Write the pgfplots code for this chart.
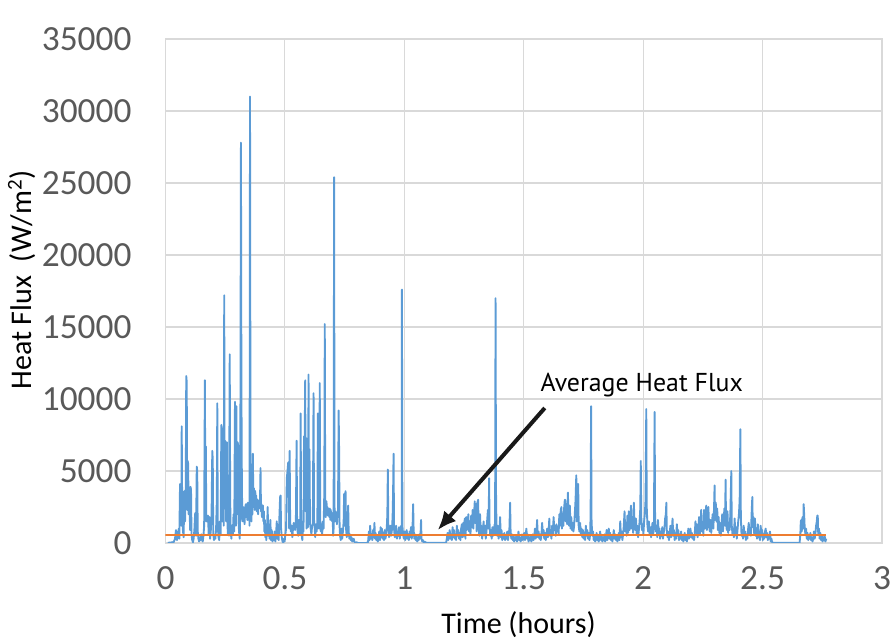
\documentclass[border=0pt]{standalone}
\usepackage{pgfplots}
\pgfplotsset{compat=1.18}
\usetikzlibrary{arrows.meta}
\usepackage{fontspec}
\setmainfont{Carlito}
\newfontfamily\annfont{PT Sans}
\definecolor{xlblue}{HTML}{5B9BD5}
\definecolor{xlorange}{HTML}{ED7D31}
\definecolor{gridgray}{HTML}{D9D9D9}
\definecolor{ticktext}{HTML}{595959}
\begin{document}
\begin{tikzpicture}
\begin{axis}[
  scale only axis,
  width=537.4pt, height=378pt,
  xmin=0, xmax=3, ymin=0, ymax=35000,
  xtick={0,0.5,1,1.5,2,2.5,3},
  ytick={0,5000,10000,15000,20000,25000,30000,35000},
  xticklabels={0,0.5,1,1.5,2,2.5,3},
  scaled y ticks=false,
  /pgf/number format/assume math mode=true,
  yticklabel={\pgfmathprintnumber[fixed,1000 sep={}]{\tick}},
  grid=major,
  grid style={gridgray, line width=0.8pt},
  axis line style={gridgray, line width=0.8pt},
  major tick length=0pt,
  tick label style={font=\fontsize{26.5}{30}\selectfont, text=ticktext},
  yticklabel style={xshift=-22pt},
  xticklabel style={yshift=-14pt},
  every axis y label/.style={at={(axis description cs:-0.2003,0.522)}, rotate=90, anchor=center, font=\fontsize{22.5}{26}\selectfont},
  every axis x label/.style={at={(axis description cs:0.4927,-0.161)}, anchor=center, font=\fontsize{22.5}{26}\selectfont},
  ylabel={Heat Flux~~(W/m\textsuperscript{2})},
  xlabel={Time (hours)},
  clip=true,
]
\addplot[xlblue, line width=1.4pt, line join=round] coordinates {
(0.010,0)(0.016,30)(0.022,20)(0.028,60)(0.034,40)(0.040,300)(0.044,900)(0.048,200)(0.052,600)(0.056,1000)(0.058,300)(0.061,4100)(0.064,3800)(0.066,1200)(0.068,8100)(0.070,2500)(0.073,900)(0.076,400)(0.079,3600)(0.082,1500)(0.085,4000)(0.087,11600)(0.089,11200)(0.091,2300)(0.093,5700)(0.095,5500)(0.097,2000)(0.100,3800)(0.103,900)(0.105,3900)(0.107,3700)(0.109,600)(0.112,200)(0.115,50)(0.118,300)(0.121,900)(0.124,2000)(0.126,2100)(0.128,500)(0.131,5300)(0.133,5000)(0.135,800)(0.138,300)(0.141,100)(0.144,400)(0.147,200)(0.150,600)(0.153,200)(0.156,100)(0.159,500)(0.162,1200)(0.165,11300)(0.167,3000)(0.169,6700)(0.171,1500)(0.173,1700)(0.175,1500)(0.178,1900)(0.181,600)(0.184,1800)(0.187,300)(0.190,900)(0.193,2000)(0.196,6400)(0.198,5800)(0.200,700)(0.203,200)(0.206,500)(0.209,300)(0.212,1000)(0.215,3000)(0.217,9700)(0.219,1200)(0.222,400)(0.225,200)(0.228,1500)(0.231,600)(0.234,8200)(0.236,8000)(0.238,1500)(0.241,7100)(0.244,1200)(0.246,17200)(0.248,2500)(0.250,7100)(0.252,3500)(0.254,1500)(0.257,7000)(0.259,2000)(0.261,600)(0.264,1800)(0.266,500)(0.269,13100)(0.271,3000)(0.273,800)(0.276,300)(0.279,1200)(0.282,600)(0.285,2000)(0.288,800)(0.291,9800)(0.293,3500)(0.295,1200)(0.297,9500)(0.299,2000)(0.302,7000)(0.304,6800)(0.306,1500)(0.308,800)(0.311,300)(0.313,2300)(0.316,27800)(0.318,10800)(0.320,4000)(0.322,1500)(0.325,2500)(0.327,1500)(0.329,2000)(0.331,1300)(0.333,2000)(0.335,2600)(0.337,2700)(0.339,1800)(0.341,2500)(0.343,1600)(0.345,2800)(0.347,1900)(0.350,2600)(0.352,1200)(0.354,31000)(0.356,6000)(0.358,2600)(0.360,1500)(0.362,3200)(0.364,2000)(0.366,6200)(0.368,2500)(0.370,3800)(0.372,3500)(0.374,2300)(0.376,3600)(0.378,2500)(0.380,3300)(0.382,2200)(0.384,2800)(0.386,3000)(0.388,2000)(0.390,2900)(0.392,2400)(0.394,2600)(0.396,3100)(0.398,5200)(0.400,2200)(0.402,2700)(0.404,1800)(0.406,2400)(0.408,2600)(0.410,1500)(0.412,2200)(0.414,800)(0.416,1600)(0.418,400)(0.420,1300)(0.422,200)(0.425,900)(0.428,2500)(0.430,500)(0.433,1200)(0.436,300)(0.439,1600)(0.442,200)(0.445,900)(0.448,100)(0.451,500)(0.454,200)(0.457,800)(0.460,100)(0.463,600)(0.466,1500)(0.468,300)(0.471,1000)(0.474,200)(0.477,1800)(0.480,3200)(0.482,3300)(0.484,1000)(0.487,400)(0.490,100)(0.493,50)(0.496,300)(0.499,100)(0.502,600)(0.505,1000)(0.508,4500)(0.511,5000)(0.514,5600)(0.516,3000)(0.518,1000)(0.520,6400)(0.522,1500)(0.525,800)(0.528,1200)(0.531,400)(0.534,1000)(0.537,1400)(0.540,1100)(0.543,900)(0.546,1500)(0.549,7100)(0.551,1800)(0.553,800)(0.556,500)(0.559,1600)(0.562,600)(0.564,1000)(0.566,9000)(0.568,1200)(0.570,600)(0.573,200)(0.576,1500)(0.578,800)(0.580,7400)(0.582,5600)(0.585,11300)(0.587,2200)(0.589,7300)(0.591,1000)(0.594,1500)(0.597,1100)(0.599,11700)(0.601,2400)(0.603,6500)(0.605,1400)(0.608,1000)(0.611,600)(0.614,1200)(0.617,1300)(0.620,10400)(0.622,1600)(0.625,1000)(0.627,400)(0.630,1300)(0.633,800)(0.636,1500)(0.638,9000)(0.640,1700)(0.642,1000)(0.644,3100)(0.646,11100)(0.648,1600)(0.650,800)(0.653,1300)(0.656,600)(0.659,1500)(0.662,1000)(0.665,3500)(0.667,15200)(0.669,2500)(0.671,1800)(0.674,2900)(0.676,2300)(0.678,2500)(0.680,1900)(0.682,2400)(0.684,2200)(0.686,1800)(0.688,2400)(0.690,1600)(0.692,2300)(0.694,1800)(0.696,2100)(0.698,1500)(0.700,1900)(0.702,500)(0.704,1000)(0.706,25400)(0.708,2200)(0.710,1500)(0.712,2200)(0.714,1800)(0.716,2000)(0.718,1300)(0.720,1900)(0.722,2100)(0.723,4000)(0.725,9200)(0.727,6500)(0.729,1200)(0.731,500)(0.734,200)(0.737,1000)(0.740,300)(0.743,800)(0.746,1500)(0.748,3400)(0.750,1200)(0.752,3300)(0.754,3600)(0.756,1000)(0.759,400)(0.762,1000)(0.765,2600)(0.767,800)(0.770,300)(0.773,600)(0.776,200)(0.779,400)(0.782,100)(0.785,200)(0.788,300)(0.791,100)(0.794,0)(0.800,50)(0.806,0)(0.812,0)(0.820,0)(0.830,0)(0.840,0)(0.848,50)(0.852,800)(0.854,200)(0.857,1200)(0.860,300)(0.863,600)(0.866,200)(0.869,900)(0.872,400)(0.875,1400)(0.877,300)(0.880,700)(0.883,200)(0.886,500)(0.889,100)(0.892,300)(0.895,800)(0.898,200)(0.901,1100)(0.903,400)(0.906,1000)(0.909,300)(0.912,700)(0.915,200)(0.918,900)(0.921,300)(0.924,600)(0.927,1200)(0.929,2000)(0.931,5100)(0.933,1300)(0.936,400)(0.939,800)(0.942,1200)(0.945,500)(0.948,900)(0.951,1800)(0.953,3500)(0.955,6200)(0.957,1000)(0.960,400)(0.963,900)(0.966,1200)(0.969,300)(0.972,800)(0.975,500)(0.978,1100)(0.981,300)(0.984,700)(0.987,1200)(0.989,600)(0.990,17600)(0.992,1200)(0.995,600)(0.998,300)(1.001,800)(1.004,200)(1.007,500)(1.010,900)(1.013,300)(1.016,600)(1.019,200)(1.022,800)(1.025,400)(1.028,1100)(1.031,300)(1.034,800)(1.037,2700)(1.039,900)(1.042,300)(1.045,600)(1.048,200)(1.051,500)(1.054,100)(1.057,400)(1.060,200)(1.063,600)(1.066,300)(1.068,600)(1.070,1600)(1.072,300)(1.075,100)(1.078,200)(1.081,50)(1.085,100)(1.090,30)(1.095,20)(1.100,20)(1.120,20)(1.140,20)(1.160,20)(1.175,20)(1.178,300)(1.181,700)(1.184,200)(1.187,500)(1.190,900)(1.193,300)(1.196,600)(1.199,200)(1.202,1100)(1.205,400)(1.208,900)(1.211,300)(1.214,600)(1.217,200)(1.220,1200)(1.223,500)(1.226,900)(1.229,300)(1.232,700)(1.235,200)(1.238,1000)(1.241,1300)(1.244,400)(1.247,1400)(1.250,500)(1.253,1700)(1.256,300)(1.259,1800)(1.262,900)(1.265,1200)(1.268,2000)(1.271,800)(1.274,1500)(1.277,600)(1.280,1900)(1.283,1100)(1.286,2300)(1.289,1000)(1.292,2000)(1.295,2900)(1.297,1400)(1.300,2700)(1.303,800)(1.306,2800)(1.309,3000)(1.311,1200)(1.314,500)(1.317,2000)(1.320,600)(1.323,1200)(1.326,300)(1.329,900)(1.332,1500)(1.335,600)(1.338,1200)(1.341,300)(1.344,800)(1.347,1600)(1.350,2300)(1.353,1000)(1.355,4500)(1.357,1200)(1.360,500)(1.363,900)(1.366,300)(1.369,1100)(1.372,500)(1.375,800)(1.378,1300)(1.380,600)(1.382,17000)(1.384,3500)(1.386,1000)(1.389,500)(1.392,1200)(1.395,300)(1.398,700)(1.401,1800)(1.404,400)(1.407,900)(1.410,200)(1.413,600)(1.416,300)(1.419,700)(1.422,200)(1.425,500)(1.428,300)(1.431,800)(1.434,200)(1.437,600)(1.440,1000)(1.443,2800)(1.445,800)(1.448,300)(1.451,600)(1.454,200)(1.457,500)(1.460,100)(1.463,400)(1.466,200)(1.469,500)(1.472,100)(1.475,300)(1.478,800)(1.481,200)(1.484,400)(1.487,100)(1.490,300)(1.493,600)(1.496,200)(1.499,400)(1.502,700)(1.505,200)(1.508,500)(1.511,1000)(1.514,300)(1.517,600)(1.520,100)(1.523,400)(1.526,200)(1.529,500)(1.532,100)(1.535,300)(1.538,600)(1.541,200)(1.544,400)(1.547,1000)(1.550,300)(1.553,600)(1.556,1600)(1.559,400)(1.562,800)(1.565,300)(1.568,600)(1.571,200)(1.574,500)(1.577,1400)(1.580,600)(1.583,900)(1.586,300)(1.589,700)(1.592,200)(1.595,500)(1.598,1000)(1.601,400)(1.604,700)(1.607,1700)(1.610,500)(1.613,900)(1.616,300)(1.619,1200)(1.622,600)(1.625,1800)(1.628,900)(1.631,1200)(1.634,500)(1.637,1300)(1.640,800)(1.643,1100)(1.646,600)(1.649,2000)(1.652,1200)(1.655,2300)(1.658,2500)(1.660,1000)(1.663,1800)(1.666,1200)(1.669,2400)(1.672,3000)(1.674,3000)(1.676,1500)(1.679,2700)(1.682,1300)(1.685,3500)(1.687,2000)(1.690,1200)(1.693,2600)(1.696,1000)(1.699,1800)(1.702,900)(1.705,1400)(1.708,800)(1.711,1200)(1.714,2100)(1.717,3000)(1.720,4700)(1.722,1500)(1.725,2300)(1.728,4100)(1.730,1200)(1.733,800)(1.736,1400)(1.739,600)(1.742,1000)(1.745,400)(1.748,900)(1.751,300)(1.754,700)(1.757,200)(1.760,1200)(1.763,500)(1.766,900)(1.769,300)(1.772,700)(1.775,200)(1.778,600)(1.780,2000)(1.782,9500)(1.784,1500)(1.787,500)(1.790,800)(1.793,200)(1.796,500)(1.799,100)(1.802,300)(1.805,700)(1.808,200)(1.811,500)(1.814,100)(1.817,400)(1.820,800)(1.823,200)(1.826,500)(1.829,100)(1.832,400)(1.835,200)(1.838,600)(1.841,100)(1.844,400)(1.847,900)(1.850,200)(1.853,500)(1.856,1000)(1.859,300)(1.862,700)(1.865,200)(1.868,500)(1.871,100)(1.874,400)(1.877,900)(1.880,300)(1.883,600)(1.886,200)(1.889,500)(1.892,100)(1.895,300)(1.898,700)(1.901,200)(1.904,1500)(1.907,400)(1.910,800)(1.913,200)(1.916,600)(1.919,1200)(1.922,2200)(1.925,800)(1.928,1400)(1.931,500)(1.934,1900)(1.937,700)(1.940,2200)(1.943,900)(1.946,1500)(1.949,2600)(1.952,1000)(1.955,1800)(1.958,700)(1.961,2800)(1.964,1300)(1.967,900)(1.970,1700)(1.973,600)(1.976,1200)(1.979,400)(1.982,900)(1.985,1500)(1.988,2400)(1.990,5700)(1.992,1800)(1.995,900)(1.998,1300)(2.001,600)(2.004,1500)(2.007,2000)(2.010,3000)(2.013,9300)(2.015,2500)(2.018,1200)(2.021,800)(2.024,1500)(2.027,600)(2.030,1100)(2.033,400)(2.036,900)(2.039,1400)(2.042,600)(2.045,1200)(2.048,9100)(2.050,1500)(2.053,800)(2.056,1200)(2.059,400)(2.062,1600)(2.065,700)(2.068,1000)(2.071,300)(2.074,800)(2.077,500)(2.080,1100)(2.083,300)(2.086,700)(2.089,1000)(2.092,1700)(2.095,2000)(2.097,2800)(2.099,900)(2.102,400)(2.105,800)(2.108,200)(2.111,600)(2.114,1200)(2.117,400)(2.120,800)(2.123,1700)(2.126,500)(2.129,900)(2.132,200)(2.135,600)(2.138,300)(2.141,1300)(2.144,500)(2.147,900)(2.150,200)(2.153,600)(2.156,300)(2.159,800)(2.162,200)(2.165,500)(2.168,100)(2.171,300)(2.174,700)(2.177,200)(2.180,500)(2.183,100)(2.186,400)(2.189,1000)(2.192,300)(2.195,600)(2.198,1000)(2.201,400)(2.204,700)(2.207,300)(2.210,500)(2.213,200)(2.216,600)(2.219,1500)(2.222,700)(2.225,1300)(2.228,400)(2.231,800)(2.234,1800)(2.237,600)(2.240,1100)(2.243,2300)(2.246,800)(2.249,1400)(2.252,500)(2.255,2300)(2.258,1000)(2.261,1500)(2.264,2600)(2.267,900)(2.270,1700)(2.273,2500)(2.276,1200)(2.279,800)(2.282,1600)(2.285,700)(2.288,1400)(2.291,2000)(2.294,1000)(2.297,2600)(2.299,4000)(2.301,1600)(2.304,2800)(2.307,1500)(2.310,2400)(2.313,900)(2.316,1800)(2.319,700)(2.322,1400)(2.325,500)(2.328,1200)(2.331,2000)(2.334,800)(2.337,1500)(2.340,2400)(2.343,1200)(2.345,4400)(2.347,1500)(2.350,900)(2.353,2200)(2.356,700)(2.359,1400)(2.362,900)(2.365,2000)(2.367,3500)(2.369,5000)(2.371,1200)(2.374,600)(2.377,1000)(2.380,400)(2.383,1700)(2.386,600)(2.389,1100)(2.392,300)(2.395,900)(2.398,1500)(2.401,2000)(2.404,3000)(2.407,7900)(2.409,1800)(2.412,500)(2.415,900)(2.418,300)(2.421,1200)(2.424,500)(2.427,800)(2.430,200)(2.433,600)(2.436,300)(2.439,900)(2.442,1400)(2.445,600)(2.448,1000)(2.451,500)(2.454,2000)(2.457,3200)(2.459,1100)(2.462,1800)(2.465,600)(2.468,1700)(2.471,500)(2.474,900)(2.477,300)(2.480,1300)(2.483,400)(2.486,800)(2.489,200)(2.492,1200)(2.495,500)(2.498,900)(2.501,200)(2.504,600)(2.507,300)(2.510,800)(2.513,1000)(2.516,400)(2.519,700)(2.522,200)(2.525,500)(2.528,300)(2.531,800)(2.534,100)(2.537,300)(2.540,50)(2.545,20)(2.560,20)(2.580,20)(2.600,20)(2.620,20)(2.640,20)(2.655,20)(2.658,600)(2.660,1500)(2.662,1600)(2.664,800)(2.667,1800)(2.670,1000)(2.672,2700)(2.674,2000)(2.676,1200)(2.679,600)(2.682,1000)(2.685,300)(2.688,700)(2.691,200)(2.694,500)(2.697,300)(2.700,700)(2.703,200)(2.706,400)(2.709,100)(2.712,300)(2.715,800)(2.718,300)(2.721,600)(2.724,1200)(2.727,1500)(2.729,1900)(2.731,1900)(2.733,600)(2.736,1000)(2.739,300)(2.742,700)(2.745,200)(2.748,500)(2.751,100)(2.754,400)(2.757,200)(2.760,500)(2.763,100)(2.767,300)
};
\addplot[xlorange, line width=1.5pt] coordinates {(0,560) (2.767,560)};
\node[font=\annfont\fontsize{19.4}{24}\selectfont, anchor=center] at (axis cs:1.994,11000) {Average Heat Flux};
\draw[-{Latex[length=14pt,width=12pt]}, line width=3pt, black!90] (axis cs:1.588,9375) -- (axis cs:1.140,900);
\end{axis}
\pgfresetboundingbox
\path[use as bounding box] ([xshift=-124.1pt,yshift=-72.75pt]current axis.south west) rectangle ([xshift=8.25pt,yshift=29.25pt]current axis.north east);
\end{tikzpicture}
\end{document}
